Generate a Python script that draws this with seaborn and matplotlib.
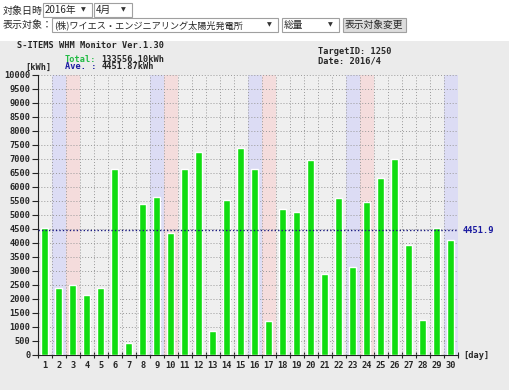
import numpy as np
import pandas as pd
import matplotlib
matplotlib.use("Agg")
import matplotlib.pyplot as plt
from matplotlib.patches import Rectangle
from matplotlib.ticker import FixedLocator
import seaborn as sns

# daily generation, April 2016 [kWh]
days = list(range(1, 31))
kwh = [4550, 2400, 2500, 2150, 2400, 6650, 430, 5400, 5650, 4350,
       6650, 7250, 860, 5530, 7400, 6650, 1200, 5200, 5100, 6950,
       2900, 5600, 3150, 5480, 6330, 7000, 3930, 1250, 4530, 4100]
saturdays = [2, 9, 16, 23, 30]
sundays = [3, 10, 17, 24]
total_kwh = 133556.10
ave_kwh = total_kwh / len(days)
y_ticks = list(range(0, 10001, 500))

sns.set_style("white")
plt.rcParams['font.family'] = ['Noto Sans CJK JP', 'DejaVu Sans']
mono = 'DejaVu Sans Mono'
fs = 6.2          # size of the monitor's pixel-ish font
cw = 0.602 * fs * 100 / 72   # width of one mono char in px

fig = plt.figure(figsize=(5.1, 3.9), dpi=100)
fig.patch.set_facecolor('white')

# overlay in pixel coords for the page bits (form controls, grey panel)
bg = fig.add_axes([0, 0, 1, 1], zorder=0)
bg.set_xlim(0, 510)
bg.set_ylim(390, 0)
bg.axis('off')
bg.add_patch(Rectangle((0, 41), 510, 349, color='#ebebeb', lw=0))

jp = dict(va='center', family=['Noto Sans CJK JP', 'DejaVu Sans'])
bg.text(3, 10.5, '対象日時', fontsize=7.2, **jp)
bg.text(3, 24.5, '表示対象：', fontsize=7.2, **jp)
boxes = [(43, 3, 49, 14, '2016年', True, False, 7.0),
         (94, 3, 38, 14, '4月', True, False, 7.0),
         (52, 18, 226, 14, '(株)ワイエス・エンジニアリング太陽光発電所', True, False, 6.6),
         (282, 18, 57, 14, '総量', True, False, 7.0),
         (343, 18, 63, 14, '表示対象変更', False, True, 7.0)]
for x0, y0, w, h, txt, arrow, button, size in boxes:
    bg.add_patch(Rectangle((x0, y0), w, h, facecolor='#dddddd' if button else 'white',
                           edgecolor='#a0a0a0', lw=0.8))
    bg.text(x0 + 2, y0 + h / 2, txt, fontsize=size, **jp)
    if arrow:
        bg.text(x0 + w - 9, y0 + h / 2, '▼', fontsize=4.5, va='center', ha='center',
                family='DejaVu Sans', color='#333333')

# header texts of the monitor image
hd = dict(family=mono, fontweight='bold', fontsize=fs, va='center')
bg.text(17, 46, 'S-ITEMS WHM Monitor Ver.1.30', **hd)
bg.text(65, 59, 'Total:', color='#22bb44', **hd)
bg.text(65 + 7 * cw, 59, f'{total_kwh:.2f}kWh', **hd)
bg.text(65, 66.5, 'Ave. :', color='#1a1aa0', **hd)
bg.text(65 + 7 * cw, 66.5, f'{ave_kwh:.2f}kWh', **hd)
bg.text(25, 67, '[kWh]', **hd)
bg.text(318, 52, 'TargetID: 1250', **hd)
bg.text(318, 60.5, 'Date: 2016/4', **hd)

# chart
ax = fig.add_axes([38 / 510, 35 / 390, 420 / 510, 280 / 390], zorder=1)
ax.set_facecolor('#efefef')

df = pd.DataFrame({'day': days, 'kWh': kwh})
sns.barplot(data=df, x='day', y='kWh', color='#11dd11', saturation=1,
            width=0.5, ax=ax, zorder=3)

for d in saturdays:
    ax.axvspan(d - 1.5, d - 0.5, color='#dcdcf4', lw=0, zorder=1)
for d in sundays:
    ax.axvspan(d - 1.5, d - 0.5, color='#f4dcdc', lw=0, zorder=1)

ax.set_xlim(-0.5, len(days) - 0.5)
ax.set_ylim(0, 10000)

for yv in y_ticks[1:]:
    ax.axhline(yv, color='#999999', ls=(0, (1, 2)), lw=0.7, zorder=2)
for i in range(len(days)):
    ax.axvline(i + 0.5, color='#999999', ls=(0, (1, 2)), lw=0.7, zorder=2)

ax.axhline(ave_kwh, color='#1a1a80', ls=(0, (1, 1.5)), lw=1, zorder=4)
ax.text(len(days) - 0.2, ave_kwh, f'{ave_kwh:.1f}', color='#1a1aa0',
        family=mono, fontweight='bold', fontsize=fs, va='center', clip_on=False)
ax.text(len(days) - 0.1, 0, '[day]', family=mono, fontweight='bold',
        fontsize=fs, va='center', clip_on=False)

for s in ['top', 'right']:
    ax.spines[s].set_visible(False)
for s in ['left', 'bottom']:
    ax.spines[s].set_color('#222222')
    ax.spines[s].set_linewidth(0.8)

ax.set_yticks(y_ticks)
ax.set_yticklabels([str(v) for v in y_ticks])
ax.set_xticks(range(len(days)))
ax.set_xticklabels([str(d) for d in days])
ax.xaxis.set_minor_locator(FixedLocator(np.arange(-0.5, len(days), 1.0)))
ax.tick_params(axis='y', left=True, length=4, width=0.8, pad=1.5, labelsize=fs)
ax.tick_params(axis='x', which='major', bottom=False, length=0, pad=4, labelsize=fs)
ax.tick_params(axis='x', which='minor', bottom=True, direction='inout', length=4, width=0.8)
for lab in ax.get_xticklabels() + ax.get_yticklabels():
    lab.set_family(mono)
    lab.set_fontweight('bold')
ax.set_xlabel('')
ax.set_ylabel('')

fig.savefig('out.png', dpi=100)
